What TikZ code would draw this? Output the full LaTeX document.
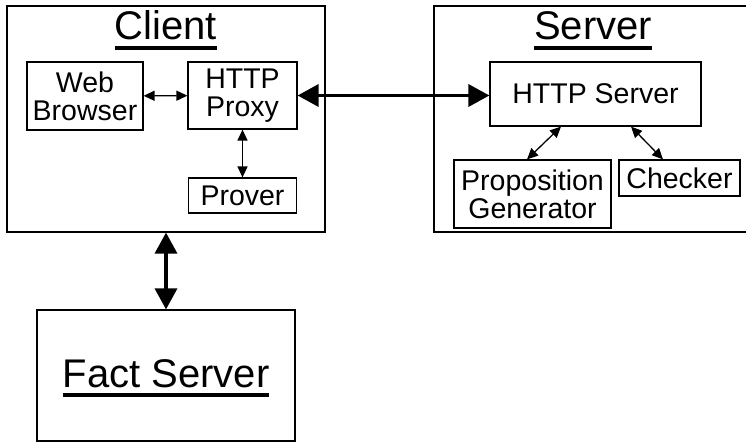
\documentclass[tikz,border=0pt]{standalone}
\usepackage{fontspec}
\setmainfont{Liberation Sans}
\usetikzlibrary{arrows.meta,calc,positioning}

% underlined heading, with a heavier rule than \underline
\newcommand{\headtext}[1]{\setbox0=\hbox{#1}\rlap{\rule[-0.245em]{\wd0}{0.09em}}\box0}

\begin{document}
\begin{tikzpicture}[
  x=1pt, y=-1pt,
  box/.style={draw, line width=1.2pt, inner sep=0pt},
  part/.style={box, align=center, font=\fontsize{28.5}{28}\selectfont},
  head/.style={anchor=base, inner sep=0pt, font=\fontsize{40}{44}\selectfont},
  thinarr/.style={{Triangle[length=11pt,width=10pt]}-{Triangle[length=11pt,width=10pt]},
                  line width=1.3pt},
  bigarr/.style={{Triangle[length=21pt,width=22pt]}-{Triangle[length=21pt,width=22pt]},
                 line width=3.5pt}]
\useasboundingbox (0,0) rectangle (746,443);
% outer boxes
\node[box, minimum width=318pt, minimum height=226pt] (client) at (166,119) {};
\node[box, minimum width=330pt, minimum height=226pt] (server) at (599,119) {};
\node[box, minimum width=258pt, minimum height=131pt] (fact) at (166,375.5) {};
\node[head] (clienthead) at (166,40) {\headtext{Client}};
\node[head] (serverhead) at (593,40) {\headtext{Server}};
\node[head] (facthead) at (166,387) {\headtext{Fact Server}};
% client parts
\node[part, minimum width=116pt, minimum height=68pt] (browser) at (85,96) {Web\\Browser};
\node[part, minimum width=109pt, minimum height=67pt] (proxy) at (242.5,95.5) {HTTP\\Proxy};
\node[part, minimum width=108pt, minimum height=35pt] (prover) at (242.5,195.5) {Prover};
% server parts
\node[part, minimum width=211pt, minimum height=64pt] (httpsrv) at (595.5,94) {HTTP Server};
\node[part, minimum width=157pt, minimum height=68pt] (propgen) at (532.5,194) {Proposition\\Generator};
\node[part, minimum width=121pt, minimum height=36pt] (checker) at (679.5,178) {Checker};
% links
\draw[thinarr] (browser) -- (proxy);
\draw[thinarr] (proxy) -- (prover);
\draw[thinarr] ([xshift=-34.5pt]httpsrv.south) -- ([xshift=-5.5pt]propgen.north);
\draw[thinarr] ([xshift=35.5pt]httpsrv.south) -- ([xshift=-16.5pt]checker.north);
\draw[bigarr] (proxy.east) -- (proxy.east -| httpsrv.west);
\draw[bigarr] (client) -- (fact);
\end{tikzpicture}
\end{document}
